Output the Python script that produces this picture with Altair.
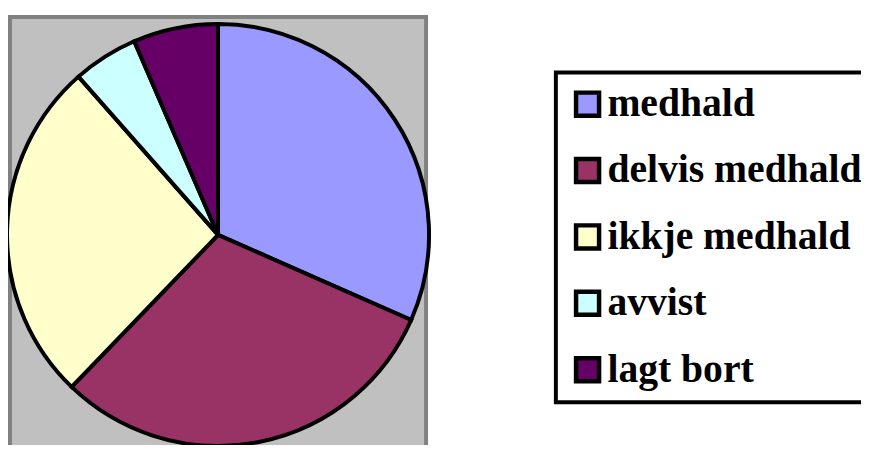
import altair as alt
import pandas as pd

categories = ["medhald", "delvis medhald", "ikkje medhald", "avvist", "lagt bort"]
values = [31.6, 30.6, 26.3, 5.0, 6.5]
colors = ["#9999FF", "#993366", "#FFFFCC", "#CCFFFF", "#660066"]

df = pd.DataFrame({"cat": categories, "value": values, "idx": list(range(len(categories)))})

background = alt.Chart(pd.DataFrame({"a": [0]})).mark_rect(
    fill="#C0C0C0", stroke="#808080", strokeWidth=4
).encode(
    x=alt.value(2), x2=alt.value(422), y=alt.value(7), y2=alt.value(460)
)

pie = alt.Chart(df).mark_arc(radius=213, stroke="black", strokeWidth=4).encode(
    x=alt.value(212),
    y=alt.value(227),
    theta=alt.Theta("value:Q", stack=True),
    color=alt.Color(
        "cat:N",
        scale=alt.Scale(domain=categories, range=colors),
        sort=categories,
        legend=alt.Legend(
            title=None,
            orient="none",
            legendX=553,
            legendY=63,
            strokeColor="black",
            fillColor="white",
            padding=12,
            symbolType="square",
            symbolSize=540,
            symbolStrokeColor="black",
            symbolStrokeWidth=4.5,
            symbolOpacity=1,
            labelFontSize=40,
            labelFont="Liberation Serif",
            labelFontWeight="bold",
            labelColor="black",
            labelOffset=0,
            rowPadding=25,
            labelLimit=600,
        ),
    ),
    order=alt.Order("idx:Q"),
)

chart = alt.layer(background, pie).properties(
    width=861,
    height=437,
    padding=0,
    autosize=alt.AutoSizeParams(type="none"),
).configure_view(
    strokeWidth=0
).configure_legend(strokeWidth=4)

chart.save("out.html", embed_options={"renderer": "svg", "actions": False})
